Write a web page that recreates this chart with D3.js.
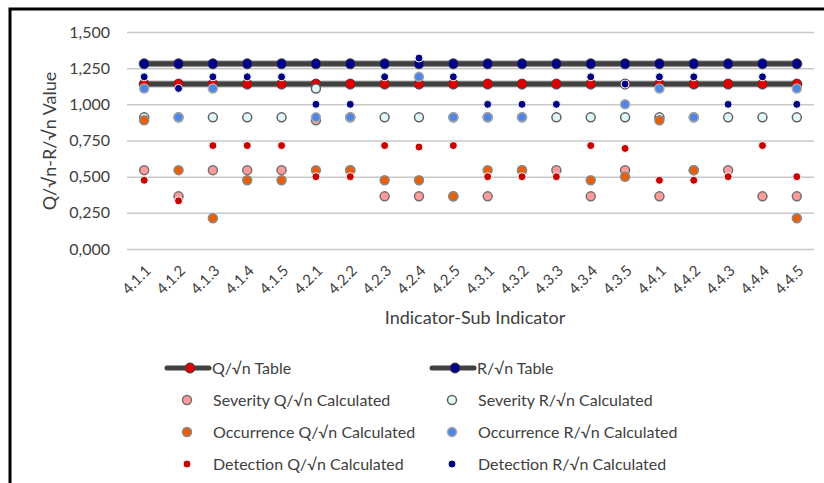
<!DOCTYPE html>
<html>
<head>
<meta charset="utf-8">
<script src="https://cdn.jsdelivr.net/npm/d3@7"></script>
<style>
  body { margin: 0; background: #fff; }
  text { font-family: Lato, "Open Sans", sans-serif; fill: #404040; }
</style>
</head>
<body>
<svg id="chart" width="824" height="483"></svg>
<script>
var categories = ["4.1.1", "4.1.2", "4.1.3", "4.1.4", "4.1.5", "4.2.1", "4.2.2", "4.2.3", "4.2.4", "4.2.5",
    "4.3.1", "4.3.2", "4.3.3", "4.3.4", "4.3.5", "4.4.1", "4.4.2", "4.4.3", "4.4.4", "4.4.5"];
var qTable = [1.14, 1.14, 1.14, 1.14, 1.14, 1.14, 1.14, 1.14, 1.14, 1.14, 1.14, 1.14, 1.14, 1.14, 1.14, 1.14, 1.14, 1.14, 1.14, 1.14];
var rTable = [1.28, 1.28, 1.28, 1.28, 1.28, 1.28, 1.28, 1.28, 1.28, 1.28, 1.28, 1.28, 1.28, 1.28, 1.28, 1.28, 1.28, 1.28, 1.28, 1.28];
var sevQ = [0.545, 0.364, 0.545, 0.545, 0.545, 0.89, 0.545, 0.364, 0.364, 0.364, 0.364, 0.545, 0.545, 0.364, 0.545, 0.364, 0.545, 0.545, 0.364, 0.364];
var sevR = [0.91, 0.91, 0.91, 0.91, 0.91, 1.11, 0.91, 0.91, 0.91, 0.91, 0.91, 0.91, 0.91, 0.91, 0.91, 0.91, 0.91, 0.91, 0.91, 0.91];
// null = point not visible in the picture (covered by another marker)
var occQ = [0.89, 0.545, 0.213, 0.475, 0.475, 0.545, 0.545, 0.475, 0.475, 0.364, 0.545, 0.545, null, 0.475, 0.50, 0.89, 0.545, null, null, 0.213];
var occR = [1.11, 0.91, 1.11, null, null, 0.91, 0.91, null, 1.19, 0.91, 0.91, 0.91, null, null, 1.0, 1.11, 0.91, null, null, 1.11];
var detQ = [0.475, 0.333, 0.715, 0.715, 0.715, 0.50, 0.50, 0.715, 0.705, 0.715, 0.50, 0.50, 0.50, 0.715, 0.695, 0.475, 0.475, 0.50, 0.715, 0.50];
var detR = [1.19, 1.11, 1.19, 1.19, 1.19, 1.0, 1.0, 1.19, 1.32, 1.19, 1.0, 1.0, 1.0, 1.19, 1.14, 1.19, 1.19, 1.0, 1.19, 1.0];
var yTicks = [0, 0.25, 0.5, 0.75, 1.0, 1.25, 1.5];

var svg = d3.select("#chart");

// frame (partly cropped in the picture)
svg.append("rect")
    .attr("x", 10).attr("y", 9)
    .attr("width", 840).attr("height", 500)
    .attr("fill", "none").attr("stroke", "#000").attr("stroke-width", 3);

var x = d3.scaleBand().domain(categories).range([127, 814]);
var y = d3.scaleLinear().domain([0, 1.5]).range([249, 32]);
var cx = function (d, i) { return x(categories[i]) + x.bandwidth() / 2; };

var fmt = d3.formatLocale({ decimal: ",", thousands: ".", grouping: [3], currency: ["", ""] }).format(".3f");

// y axis with grid
var yAxis = svg.append("g")
    .attr("transform", "translate(127,0)")
    .call(d3.axisLeft(y).tickValues(yTicks).tickSize(-687).tickFormat(fmt));
yAxis.select(".domain").remove();
yAxis.selectAll("line").attr("stroke", "#c8c8c8").attr("stroke-width", 1.5);
yAxis.selectAll("text")
    .attr("x", -17)
    .style("font-size", "16px").style("font-family", "Lato, sans-serif").attr("fill", "#404040");

// x axis labels
var xAxis = svg.append("g");
xAxis.selectAll("text")
    .data(categories)
    .enter().append("text")
    .attr("text-anchor", "end")
    .attr("transform", function (d) { return "translate(" + (x(d) + x.bandwidth() / 2 + 4) + ",268) rotate(-45)"; })
    .attr("dy", "0.35em")
    .style("font-size", "15px")
    .text(function (d) { return d; });

svg.append("text")
    .attr("x", 475).attr("y", 324)
    .attr("text-anchor", "middle")
    .style("font-size", "18px")
    .text("Indicator-Sub Indicator");

svg.append("text")
    .attr("transform", "translate(56,141) rotate(-90)")
    .attr("text-anchor", "middle")
    .style("font-size", "18px")
    .text("Q/\u221An-R/\u221An Value");

var series = [
    { name: "Q/\u221An Table", values: qTable, fill: "#e00000", stroke: "#404040", sw: 1, r: 5, line: true },
    { name: "R/\u221An Table", values: rTable, fill: "#00008b", stroke: "#404040", sw: 1, r: 5, line: true },
    { name: "Severity Q/\u221An Calculated", values: sevQ, fill: "#ff9b9b", stroke: "#707070", sw: 1.5, r: 4.5 },
    { name: "Severity R/\u221An Calculated", values: sevR, fill: "#dff8fa", stroke: "#606060", sw: 1.5, r: 4.5 },
    { name: "Occurrence Q/\u221An Calculated", values: occQ, fill: "#e85f0a", stroke: "#8a8a8a", sw: 1.5, r: 4.5 },
    { name: "Occurrence R/\u221An Calculated", values: occR, fill: "#4f86e6", stroke: "#a8a8a8", sw: 1.5, r: 4.5 },
    { name: "Detection Q/\u221An Calculated", values: detQ, fill: "#c80000", stroke: "#fff", sw: 1, r: 4 },
    { name: "Detection R/\u221An Calculated", values: detR, fill: "#000080", stroke: "#fff", sw: 1, r: 4 }
];

var line = d3.line()
    .x(function (d, i) { return cx(d, i); })
    .y(function (d) { return y(d); });

series.forEach(function (s) {
    var g = svg.append("g");
    if (s.line) {
        g.append("path")
            .datum(s.values)
            .attr("d", line)
            .attr("fill", "none")
            .attr("stroke", "#b0b0b0")
            .attr("stroke-width", 7);
        g.append("path")
            .datum(s.values)
            .attr("d", line)
            .attr("fill", "none")
            .attr("stroke", "#404040")
            .attr("stroke-width", 5);
    }
    var pts = s.values.map(function (v, i) { return { v: v, i: i }; })
        .filter(function (p) { return p.v !== null; });
    g.selectAll("circle")
        .data(pts)
        .enter().append("circle")
        .attr("cx", function (p) { return cx(p.v, p.i); })
        .attr("cy", function (p) { return y(p.v); })
        .attr("r", s.r)
        .attr("fill", s.fill)
        .attr("stroke", s.stroke)
        .attr("stroke-width", s.sw);
});

// legend, two columns
var legend = svg.append("g");
series.forEach(function (s, i) {
    var col = i % 2, row = Math.floor(i / 2);
    var lx = col === 0 ? 187 : 452;
    var ly = 368 + row * 32;
    var item = legend.append("g");
    if (s.line) {
        item.append("line")
            .attr("x1", lx - 20).attr("x2", lx + 22)
            .attr("y1", ly).attr("y2", ly)
            .attr("stroke", "#404040").attr("stroke-width", 5)
            .attr("stroke-linecap", "round");
        item.append("circle")
            .attr("cx", lx + 3).attr("cy", ly).attr("r", 5)
            .attr("fill", s.fill).attr("stroke", s.stroke).attr("stroke-width", 1);
        item.append("text")
            .attr("x", lx + 25).attr("y", ly).attr("dy", "0.35em")
            .style("font-size", "16px")
            .text(s.name);
    } else {
        item.append("circle")
            .attr("cx", lx).attr("cy", ly).attr("r", s.r)
            .attr("fill", s.fill).attr("stroke", s.stroke).attr("stroke-width", s.sw);
        item.append("text")
            .attr("x", lx + 26).attr("y", ly).attr("dy", "0.35em")
            .style("font-size", "16px")
            .text(s.name);
    }
});
</script>
</body>
</html>
